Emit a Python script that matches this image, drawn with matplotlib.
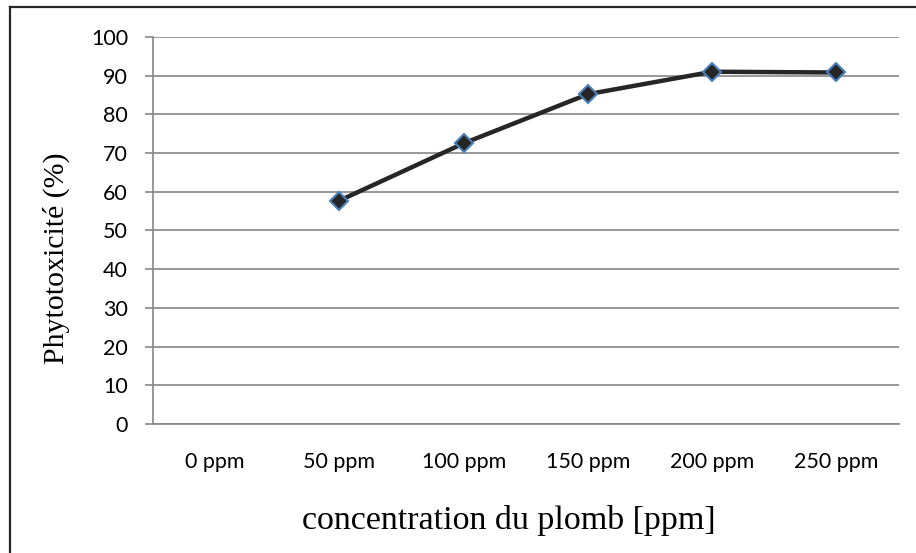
#!/usr/bin/env python3
"""Phytotoxicity vs lead concentration (line chart, Excel style)."""

import matplotlib
matplotlib.use("Agg")
import matplotlib.pyplot as plt
from matplotlib.lines import Line2D
import numpy as np

categories = ["0 ppm", "50 ppm", "100 ppm", "150 ppm", "200 ppm", "250 ppm"]
phytotox = [np.nan, 57.7, 72.5, 85.2, 91.0, 90.8]
yticks = [0, 10, 20, 30, 40, 50, 60, 70, 80, 90, 100]

grid_col = "#868686"

fig = plt.figure(figsize=(9.16, 5.53), dpi=100)
ax = fig.add_axes([0.167, 0.2333, 0.814, 0.700])

x = np.arange(len(categories))
ax.plot(x, phytotox, color="#262626", lw=3.2, marker="D", markersize=9,
        markerfacecolor="#262626", markeredgecolor="#4a7ebb",
        markeredgewidth=1.5, zorder=3)

ax.set_xlim(-0.5, len(categories) - 0.5)
ax.set_ylim(0, 100)
ax.set_yticks(yticks)
ax.yaxis.grid(True, color=grid_col, lw=1.2)
ax.set_axisbelow(True)

ax.set_xticks(x)
ax.set_xticklabels(categories, fontfamily="Lato", fontsize=15.5)
ax.tick_params(axis="x", length=0, pad=20)
ax.tick_params(axis="y", direction="out", length=6, width=1.2, color=grid_col,
               labelsize=15.5, pad=12)
for lab in ax.get_yticklabels():
    lab.set_fontfamily("Lato")

for side in ["top", "right"]:
    ax.spines[side].set_visible(False)
for side in ["left", "bottom"]:
    ax.spines[side].set_color(grid_col)
    ax.spines[side].set_linewidth(1.2)

fig.text(0.062, 0.533, "Phytotoxicité (%)", fontfamily="Liberation Serif",
         fontsize=21.5, rotation=90, ha="center", va="center")
fig.text(0.555, 0.058, "concentration du plomb [ppm]",
         fontfamily="Liberation Serif", fontsize=24.5, ha="center", va="center")

# outer frame (only left and top edges are visible in the crop)
fig.add_artist(Line2D([0.0105, 0.0105], [0, 0.988], color="#262626", lw=1.6,
                      transform=fig.transFigure))
fig.add_artist(Line2D([0.0105, 1.0], [0.988, 0.988], color="#262626", lw=1.6,
                      transform=fig.transFigure))

fig.savefig("out.png", dpi=100)
